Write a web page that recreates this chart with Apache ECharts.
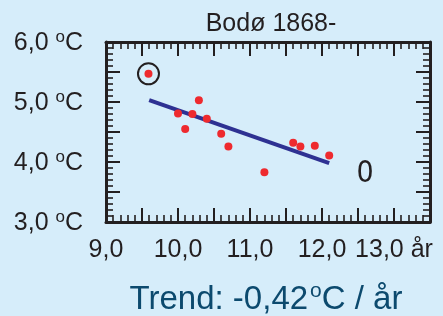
<!DOCTYPE html>
<html>
<head>
<meta charset="utf-8">
<script src="https://cdn.jsdelivr.net/npm/echarts@6/dist/echarts.min.js"></script>
<style>
  html, body { margin: 0; padding: 0; background: #d6edfa; }
  #chart { width: 443px; height: 316px; }
</style>
</head>
<body>
<div id="chart"></div>
<script>
// scatter values
var xVals = [9.59, 10.0, 10.1, 10.2, 10.29, 10.4, 10.6, 10.7, 11.2, 11.6, 11.7, 11.9, 12.1];
var yVals = [5.47, 4.81, 4.55, 4.80, 5.03, 4.72, 4.47, 4.26, 3.83, 4.32, 4.26, 4.27, 4.11];

// trend line end points
var trendX = [9.6, 12.1];
var trendY = [5.03, 3.98];

// the circled point and the "0" mark
var circledX = [9.59];
var circledY = [5.47];
var zeroX = [12.6];
var zeroY = [3.79];

var xTicks = [9, 10, 11, 12, 13];
var yTicks = [3, 4, 5, 6];

var titleText = 'Bodø 1868-';
var trendText = 'Trend: -0,42';

var FONT = '"Liberation Sans", Arial, sans-serif';
var INK = '#231f20';
var TEAL = '#0c4a6e';

function pairs(xs, ys) {
    return xs.map(function (x, i) { return [x, ys[i]]; });
}

function isTick(list, v) {
    return list.some(function (t) { return Math.abs(t - v) < 1e-6; });
}

function fmtNum(v) {
    return v.toFixed(1).replace('.', ',');
}

var tickStyle = { show: true, inside: true, length: 14, lineStyle: { color: INK, width: 2 } };
var minorStyle = { show: true, splitNumber: 5, length: 7, lineStyle: { color: INK, width: 1.6 } };
var lineStyle = { show: true, onZero: false, lineStyle: { color: INK, width: 3 } };

var chart = echarts.init(document.getElementById('chart'), null, { renderer: 'canvas' });

var option = {
    backgroundColor: '#d6edfa',
    animation: false,
    title: [
        {
            text: titleText,
            left: 266, top: 7, textAlign: 'center',
            textStyle: { fontFamily: FONT, fontSize: 25, fontWeight: 'normal', color: INK }
        },
        {
            text: '{t|' + trendText + '}{s|o}{t|C / år}',
            left: 261, top: 275, textAlign: 'center',
            textStyle: {
                fontWeight: 'normal',
                rich: {
                    t: { fontFamily: FONT, fontSize: 33, fontWeight: 'normal', color: TEAL, verticalAlign: 'bottom', lineHeight: 36 },
                    s: { fontFamily: FONT, fontSize: 21, fontWeight: 'normal', color: TEAL, verticalAlign: 'top', lineHeight: 36, padding: [1, 0, 0, 2] }
                }
            }
        }
    ],
    grid: { left: 106, right: 13, top: 42, bottom: 94, show: false },
    xAxis: [
        {
            type: 'value', position: 'bottom', min: 9, max: 13.5, interval: 0.5,
            axisLine: lineStyle, axisTick: tickStyle, minorTick: minorStyle,
            splitLine: { show: false },
            axisLabel: {
                margin: 16, fontFamily: FONT, fontSize: 25, color: INK,
                formatter: function (v) {
                    if (!isTick(xTicks, v)) return '';
                    return v === 13 ? fmtNum(v) + ' år' : fmtNum(v);
                }
            }
        },
        {
            type: 'value', position: 'top', min: 9, max: 13.5, interval: 0.5,
            axisLine: lineStyle, axisTick: tickStyle, minorTick: minorStyle,
            splitLine: { show: false }, axisLabel: { show: false }
        }
    ],
    yAxis: [
        {
            type: 'value', position: 'left', min: 3, max: 6, interval: 0.5,
            axisLine: lineStyle, axisTick: tickStyle, minorTick: minorStyle,
            splitLine: { show: false },
            axisLabel: {
                margin: 23,
                formatter: function (v) {
                    if (!isTick(yTicks, v)) return '';
                    return '{t|' + fmtNum(v) + ' }{s|o}{t|C}';
                },
                rich: {
                    t: { fontFamily: FONT, fontSize: 25, color: INK, verticalAlign: 'bottom', lineHeight: 28 },
                    s: { fontFamily: FONT, fontSize: 17, color: INK, verticalAlign: 'top', lineHeight: 28, padding: [1, 0, 0, 0] }
                }
            }
        },
        {
            type: 'value', position: 'right', min: 3, max: 6, interval: 0.5,
            axisLine: lineStyle, axisTick: tickStyle, minorTick: minorStyle,
            splitLine: { show: false }, axisLabel: { show: false }
        }
    ],
    series: [
        {
            type: 'line',
            data: pairs(trendX, trendY),
            symbol: 'none',
            lineStyle: { color: '#2e3192', width: 4, cap: 'butt' },
            z: 2
        },
        {
            type: 'scatter',
            data: pairs(xVals, yVals),
            symbol: 'circle',
            symbolSize: 8,
            itemStyle: { color: '#ee2a2e', opacity: 1 },
            z: 3
        },
        {
            type: 'scatter',
            data: pairs(circledX, circledY),
            symbol: 'circle',
            symbolSize: 21,
            itemStyle: { color: 'rgba(0,0,0,0)', borderColor: INK, borderWidth: 2, opacity: 1 },
            z: 2
        },
        {
            type: 'scatter',
            data: pairs(zeroX, zeroY),
            symbol: 'circle',
            symbolSize: 1,
            itemStyle: { color: 'rgba(0,0,0,0)' },
            label: {
                show: true, position: 'inside', formatter: '0',
                fontFamily: '"Liberation Sans Narrow", "DejaVu Sans Condensed", ' + FONT,
                fontSize: 30, color: INK, opacity: 1
            },
            z: 2
        }
    ]
};

chart.setOption(option);
</script>
</body>
</html>
